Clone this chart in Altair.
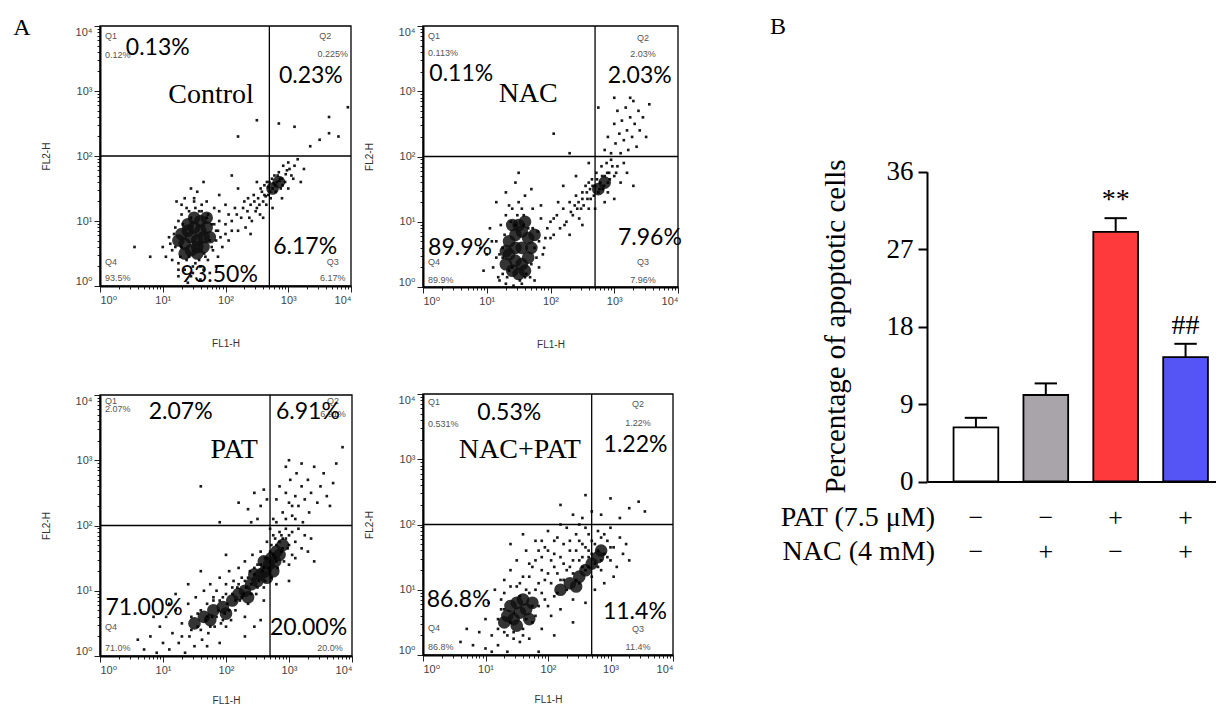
import altair as alt
import pandas as pd

W, H = 1208, 697

# ---------------- Panel A: dot plots, positions read as (log10 FL1-H, log10 FL2-H) ----------------
control_dots = [
    (1.15, 0.55), (1.2, 0.9), (1.25, 0.35), (1.3, 1.1), (1.3, 0.6), (1.35, 0.25), (1.38, 1.2), (1.42, 0.45),
    (1.45, 1.05), (1.48, 0.2), (1.5, 1.3), (1.52, 0.35), (1.58, 1.15), (1.6, 0.3), (1.62, 1.25), (1.66, 0.5),
    (1.7, 1.05), (1.72, 0.4), (1.75, 0.7), (1.78, 0.95), (1.8, 0.55), (1.82, 1.2), (1.85, 0.85), (1.88, 0.45),
    (1.9, 1.0), (1.1, 0.75), (1.05, 0.45), (1.0, 0.6), (1.22, 1.3), (1.35, 1.35), (1.45, 1.5), (1.55, 1.45),
    (1.65, 1.6), (1.25, 0.15), (1.4, 0.05), (1.6, 0.1), (1.75, 0.2), (1.95, 0.6), (2.0, 0.8), (2.05, 1.1),
    (2.0, 0.95), (2.05, 0.7), (2.1, 1.0), (2.15, 1.2), (2.2, 0.85), (2.25, 1.05), (2.3, 1.3), (2.32, 0.9),
    (2.35, 1.15), (2.4, 1.25), (2.42, 1.0), (2.45, 1.4), (2.5, 1.2), (2.52, 1.35), (2.55, 1.1), (2.58, 1.45),
    (2.6, 1.3), (2.62, 1.55), (2.65, 1.25), (2.68, 1.4), (2.7, 1.6), (2.72, 1.35), (2.75, 1.5), (2.78, 1.7),
    (2.8, 1.45), (2.82, 1.6), (2.85, 1.75), (2.88, 1.5), (2.9, 1.65), (2.92, 1.85), (2.95, 1.6), (2.98, 1.78),
    (3.0, 1.9), (3.05, 1.7), (3.1, 1.85), (3.15, 1.95), (2.4, 0.8), (2.6, 1.05), (2.75, 1.2), (2.9, 1.35),
    (3.0, 1.5), (2.2, 1.5), (2.5, 1.6), (1.9, 1.4), (2.1, 1.7), (3.2, 1.6), (3.25, 1.8), (2.85, 2.5),
    (3.1, 2.45), (3.35, 2.15), (3.5, 2.25), (3.65, 2.35), (3.8, 2.3), (3.95, 2.75), (3.65, 2.6), (2.5, 2.55),
    (2.2, 2.3), (0.55, 0.6), (0.8, 0.45), (2.68, 1.52), (2.77, 1.58), (2.64, 1.38), (2.86, 1.62),
    (1.2, 0.6), (1.25, 1.0), (1.28, 0.45), (1.32, 0.95), (1.38, 0.4), (1.42, 1.15), (1.48, 0.3), (1.52, 1.2),
    (1.58, 0.4), (1.62, 1.15), (1.68, 0.45), (1.72, 1.1), (1.78, 0.6), (1.82, 0.95), (1.85, 0.7), (1.88, 0.85),
    (1.92, 0.75), (1.18, 0.8), (1.15, 0.4), (1.12, 0.65), (1.3, 1.25), (1.5, 1.35), (1.7, 1.3), (1.9, 1.15),
    (2.0, 1.25), (1.25, 0.25), (1.45, 0.15), (1.65, 0.25), (1.85, 0.3), (2.1, 0.85), (2.18, 1.1), (2.28, 1.2),
    (2.38, 1.05), (2.46, 1.3), (2.54, 1.25), (2.62, 1.4), (2.66, 1.6), (2.71, 1.45), (2.74, 1.65), (2.79, 1.55),
    (2.83, 1.7), (2.87, 1.65), (2.91, 1.55), (2.96, 1.72), (3.02, 1.8), (3.08, 1.65), (2.56, 1.5), (2.48, 1.15),
    (2.36, 1.35),
]
control_core = [(1.35, 0.65), (1.45, 0.55), (1.55, 0.5), (1.65, 0.6), (1.75, 0.75), (1.7, 0.9), (1.6, 1.0),
                (1.5, 1.05), (1.4, 0.95), (1.3, 0.8), (1.45, 0.75), (1.55, 0.7), (1.6, 0.85), (1.5, 0.9),
                (1.4, 0.85), (1.65, 0.75), (1.55, 0.6), (1.35, 0.5), (1.7, 1.05), (1.25, 0.7),
                (2.75, 1.5), (2.85, 1.6)]

nac_dots = [
    (1.1, 0.3), (1.15, 0.7), (1.2, 0.1), (1.22, 0.95), (1.25, 0.45), (1.3, 0.05), (1.3, 1.1), (1.35, 0.25),
    (1.4, 1.2), (1.42, 0.02), (1.45, 0.95), (1.5, 1.3), (1.55, 0.05), (1.58, 1.1), (1.62, 0.2), (1.65, 0.9),
    (1.7, 0.35), (1.72, 1.2), (1.75, 0.6), (1.8, 0.85), (1.82, 0.3), (1.85, 1.05), (1.9, 0.6), (1.95, 0.9),
    (1.0, 0.5), (0.95, 0.25), (0.9, 0.6), (1.05, 0.9), (1.15, 1.3), (1.3, 1.45), (1.45, 1.6), (1.5, 1.75),
    (1.7, 1.5), (1.6, 1.4), (2.0, 0.75), (2.05, 1.05), (1.25, 0.6), (1.6, 0.15), (1.75, 0.1), (1.4, 0.3),
    (2.0, 1.0), (2.05, 0.8), (2.1, 1.1), (2.15, 0.9), (2.2, 1.2), (2.25, 1.0), (2.3, 1.3), (2.35, 1.1),
    (2.4, 1.4), (2.42, 1.2), (2.45, 1.05), (2.5, 1.45), (2.52, 1.25), (2.55, 1.55), (2.58, 1.35), (2.6, 1.2),
    (2.62, 1.5), (2.65, 1.65), (2.68, 1.4), (2.7, 1.55), (2.72, 1.75), (2.75, 1.45), (2.78, 1.6), (2.8, 1.85),
    (2.82, 1.5), (2.85, 1.7), (2.88, 1.9), (2.9, 1.6), (2.92, 1.75), (2.95, 1.95), (3.0, 1.7), (3.05, 1.85),
    (3.1, 1.6), (3.15, 1.9), (3.2, 1.75), (2.3, 0.8), (2.5, 0.95), (2.7, 1.2), (2.85, 1.3), (2.4, 1.7),
    (2.6, 1.9), (2.2, 1.55), (3.3, 1.55), (3.0, 1.35), (2.85, 2.1), (2.9, 2.3), (2.95, 2.05), (3.0, 2.5),
    (3.02, 2.2), (3.05, 2.7), (3.08, 2.35), (3.1, 2.05), (3.12, 2.55), (3.15, 2.25), (3.18, 2.75), (3.2, 2.4),
    (3.22, 2.1), (3.25, 2.6), (3.28, 2.3), (3.3, 2.85), (3.32, 2.5), (3.35, 2.15), (3.38, 2.7), (3.4, 2.4),
    (3.45, 2.6), (3.5, 2.3), (3.55, 2.8), (2.75, 2.75), (3.0, 2.9), (3.25, 2.9), (2.05, 2.35), (2.3, 2.05),
    (1.2, 0.5), (1.25, 0.2), (1.28, 0.8), (1.32, 0.15), (1.38, 1.0), (1.48, 1.1), (1.52, 0.1), (1.58, 0.95),
    (1.68, 0.15), (1.72, 0.9), (1.78, 0.45), (1.82, 0.7), (1.88, 0.5), (1.92, 0.75), (1.15, 0.45), (1.18, 0.15),
    (1.08, 0.7), (1.35, 1.25), (1.55, 1.2), (1.85, 1.25), (2.12, 1.3), (2.22, 0.95), (2.32, 1.15), (2.44, 1.3),
    (2.48, 1.2), (2.57, 1.45), (2.63, 1.35), (2.66, 1.55), (2.73, 1.65), (2.77, 1.5), (2.81, 1.7), (2.84, 1.55),
    (2.89, 1.75), (2.93, 1.65), (2.97, 1.85), (3.03, 1.75), (2.6, 1.6), (2.5, 1.35), (2.38, 1.25), (2.9, 1.45),
]
nac_core = [(1.35, 0.5), (1.45, 0.4), (1.55, 0.35), (1.65, 0.45), (1.7, 0.6), (1.65, 0.75), (1.55, 0.85),
            (1.45, 0.8), (1.35, 0.7), (1.3, 0.55), (1.45, 0.6), (1.55, 0.6), (1.5, 0.2), (1.4, 0.25),
            (1.6, 0.25), (1.5, 0.95), (1.75, 0.8), (1.3, 0.35), (1.6, 1.0), (1.4, 0.95),
            (2.75, 1.5), (2.85, 1.6)]

pat_dots = [
    (0.7, 0.1), (0.8, 0.3), (0.9, 0.05), (0.95, 0.45), (1.0, 0.2), (1.05, 0.6), (1.1, 0.1), (1.15, 0.35),
    (1.2, 0.7), (1.25, 0.2), (1.3, 0.5), (1.35, 0.05), (1.4, 0.8), (1.42, 0.3), (1.45, 0.6), (1.5, 0.15),
    (1.52, 0.9), (1.55, 0.45), (1.6, 0.7), (1.62, 0.25), (1.65, 1.0), (1.68, 0.55), (1.7, 0.8), (1.72, 0.35),
    (1.75, 1.1), (1.78, 0.6), (1.8, 0.85), (1.82, 0.45), (1.85, 1.0), (1.88, 0.7), (1.9, 1.2), (1.92, 0.5),
    (1.95, 0.9), (1.98, 0.65), (2.0, 1.1), (2.02, 0.8), (2.05, 1.3), (2.08, 0.55), (2.1, 0.95), (2.12, 1.15),
    (2.15, 0.7), (2.18, 1.05), (2.2, 1.35), (2.22, 0.85), (2.25, 1.2), (2.28, 0.95), (2.3, 1.45), (2.32, 1.05),
    (2.35, 0.8), (2.38, 1.3), (2.4, 1.1), (2.42, 1.55), (2.45, 1.25), (2.48, 0.95), (2.5, 1.4), (2.52, 1.15),
    (2.55, 1.6), (2.58, 1.3), (2.6, 1.05), (2.62, 1.5), (2.65, 1.75), (2.68, 1.35), (2.7, 1.6), (2.72, 1.2),
    (2.75, 1.85), (2.78, 1.5), (2.8, 1.7), (2.82, 1.35), (2.85, 1.9), (2.88, 1.6), (2.9, 1.8), (2.92, 1.45),
    (2.95, 1.95), (2.98, 1.65), (3.0, 1.85), (3.05, 1.55), (3.1, 1.75), (3.15, 1.95), (3.2, 1.65), (3.25, 1.85),
    (3.3, 1.6), (3.35, 1.8), (3.0, 1.4), (3.1, 1.5), (2.3, 0.6), (2.0, 0.45), (1.7, 0.15), (2.6, 0.85),
    (2.8, 1.1), (1.4, 1.1), (1.6, 1.3), (1.2, 0.95), (2.0, 1.55), (1.9, 0.2), (2.3, 0.3), (2.55, 0.55),
    (1.1, 0.8), (0.85, 0.6), (0.6, 0.25), (3.4, 1.45), (2.45, 0.45), (3.0, 1.15), (1.9, 2.05), (2.2, 2.35),
    (2.35, 2.25), (2.45, 2.5), (2.55, 2.3), (2.6, 2.55), (2.5, 2.1), (2.65, 2.4), (2.4, 2.05), (1.6, 2.6),
    (2.75, 2.1), (2.8, 2.4), (2.85, 2.6), (2.9, 2.2), (2.95, 2.5), (3.0, 2.35), (3.02, 2.7), (3.05, 2.15),
    (3.1, 2.45), (3.12, 2.8), (3.15, 2.3), (3.2, 2.6), (3.22, 2.05), (3.25, 2.4), (3.3, 2.7), (3.32, 2.2),
    (3.35, 2.5), (3.4, 2.9), (3.45, 2.35), (3.5, 2.6), (3.55, 2.8), (3.6, 2.45), (3.65, 2.3), (3.7, 2.65),
    (3.75, 2.95), (3.85, 3.2), (2.95, 2.9), (3.0, 3.0), (3.2, 2.95), (3.1, 2.1),
    (1.3, 0.3), (1.45, 0.4), (1.55, 0.65), (1.6, 0.4), (1.7, 0.6), (1.75, 0.45), (1.8, 0.9), (1.85, 0.6),
    (1.9, 0.85), (1.95, 0.55), (2.0, 0.95), (2.05, 0.7), (2.1, 1.05), (2.15, 0.85), (2.2, 1.1), (2.25, 0.9),
    (2.3, 1.15), (2.35, 1.2), (2.4, 0.95), (2.45, 1.35), (2.5, 1.05), (2.55, 1.4), (2.6, 1.35), (2.65, 1.5),
    (2.7, 1.3), (2.72, 1.7), (2.75, 1.55), (2.8, 1.45), (2.85, 1.75), (2.9, 1.65), (2.95, 1.8), (3.0, 1.7),
    (3.05, 1.9), (2.62, 1.15), (2.78, 1.8), (2.88, 1.85), (2.7, 1.95), (2.8, 2.05), (2.95, 2.1), (3.05, 2.3),
]
pat_core = [(1.5, 0.5), (1.65, 0.6), (1.8, 0.7), (1.95, 0.75), (2.1, 0.85), (2.2, 0.95), (2.3, 1.0),
            (2.4, 1.1), (2.5, 1.15), (2.55, 1.25), (2.62, 1.3), (2.68, 1.4), (2.72, 1.5), (2.78, 1.45),
            (2.8, 1.6), (2.85, 1.55), (2.75, 1.3), (2.9, 1.7), (2.65, 1.2), (2.0, 0.65), (1.75, 0.55),
            (2.35, 0.9), (2.45, 1.25), (2.6, 1.45)]

nacpat_dots = [
    (0.8, 0.15), (0.9, 0.35), (1.0, 0.1), (1.0, 0.55), (1.05, 0.8), (1.1, 0.3), (1.15, 1.0), (1.2, 0.15),
    (1.2, 0.55), (1.25, 0.85), (1.3, 0.35), (1.3, 1.15), (1.35, 0.05), (1.4, 0.5), (1.4, 1.3), (1.45, 0.25),
    (1.5, 1.05), (1.5, 1.45), (1.55, 0.2), (1.6, 1.2), (1.6, 0.4), (1.65, 1.6), (1.7, 0.95), (1.7, 0.25),
    (1.75, 1.35), (1.8, 0.6), (1.8, 1.75), (1.85, 1.1), (1.9, 0.4), (1.9, 1.5), (1.95, 0.85), (2.0, 1.9),
    (2.0, 1.25), (2.05, 0.6), (2.1, 1.55), (2.1, 0.9), (2.15, 1.8), (2.2, 1.15), (2.2, 0.7), (2.25, 1.4),
    (2.3, 1.95), (2.3, 1.0), (2.35, 1.6), (2.4, 0.85), (2.4, 1.25), (2.45, 1.85), (2.5, 1.45), (2.5, 1.1),
    (2.55, 1.7), (2.6, 1.3), (2.6, 1.95), (2.65, 1.5), (2.7, 1.2), (2.7, 1.75), (2.75, 1.4), (2.8, 1.6),
    (2.8, 1.9), (2.85, 1.3), (2.9, 1.55), (2.95, 1.75), (3.0, 1.45), (3.0, 1.95), (3.05, 1.65), (3.1, 1.35),
    (3.15, 1.8), (3.2, 1.55), (3.25, 1.7), (3.3, 1.45), (2.9, 1.1), (2.6, 0.8), (2.4, 0.5), (2.1, 0.3),
    (1.85, 0.05), (2.2, 2.0), (2.5, 2.0), (1.6, 1.85), (1.4, 1.7), (3.05, 1.2), (2.75, 1.0), (1.3, 0.7),
    (1.75, 0.75), (1.65, 0.55), (1.55, 0.9), (1.45, 0.65), (2.35, 1.35), (2.15, 1.25), (2.65, 1.6), (2.85, 1.8),
    (1.95, 1.65), (0.7, 0.4), (0.6, 0.2), (1.1, 0.05), (2.55, 2.1), (2.7, 2.2), (2.85, 2.15), (3.0, 2.4),
    (3.3, 2.25), (3.45, 2.35), (3.55, 2.2), (2.4, 2.15), (2.2, 2.3), (2.6, 2.45), (3.15, 2.1), (1.9, 1.3),
    (2.05, 1.45), (2.45, 1.15), (2.55, 1.35), (1.85, 1.6), (2.25, 1.7), (1.7, 1.4), (2.65, 1.85),
    (1.2, 0.4), (1.25, 0.7), (1.3, 0.95), (1.35, 0.3), (1.4, 1.05), (1.45, 0.35), (1.55, 1.1), (1.6, 0.3),
    (1.65, 1.0), (1.75, 0.5), (1.8, 1.0), (1.85, 0.75), (1.9, 0.95), (1.95, 1.15), (2.0, 0.75), (2.05, 1.1),
    (2.1, 1.35), (2.15, 0.95), (2.2, 1.5), (2.25, 1.15), (2.3, 1.3), (2.35, 1.75), (2.4, 1.45), (2.45, 1.6),
    (2.5, 1.75), (2.55, 1.5), (2.6, 1.65), (2.65, 1.35), (2.7, 1.55), (2.75, 1.7), (2.8, 1.35), (2.85, 1.45),
    (2.9, 1.85), (2.95, 1.5), (3.0, 1.65), (1.7, 1.2), (1.8, 1.45), (1.9, 1.75), (2.0, 1.6), (2.1, 1.75),
]
nacpat_core = [(1.35, 0.6), (1.45, 0.55), (1.55, 0.65), (1.65, 0.7), (1.6, 0.85), (1.5, 0.8), (1.4, 0.75),
               (1.3, 0.5), (1.7, 0.55), (1.5, 0.45), (1.75, 0.8), (2.2, 1.0), (2.35, 1.1), (2.5, 1.2),
               (2.6, 1.3), (2.7, 1.4), (2.8, 1.5), (2.85, 1.6), (2.45, 1.05)]

# quadrant annotations: (text, log10 FL1-H, log10 FL2-H, kind)
control_notes = [
    ("Q1", 0.08, 3.84, "sl"), ("0.12%", 0.08, 3.56, "sl"), ("0.13%", 0.92, 3.66, "big"),
    ("Control", 1.77, 2.94, "name"), ("Q2", 3.59, 3.84, "sc"), ("0.225%", 3.71, 3.57, "sc"),
    ("0.23%", 3.36, 3.23, "big"), ("6.17%", 3.27, 0.60, "big"), ("Q3", 3.71, 0.37, "sc"),
    ("6.17%", 3.71, 0.12, "sc"), ("Q4", 0.08, 0.37, "sl"), ("93.5%", 0.08, 0.12, "sl"),
    ("93.50%", 1.90, 0.17, "big"),
]
nac_notes = [
    ("Q1", 0.08, 3.84, "sl"), ("0.113%", 0.08, 3.58, "sl"), ("0.11%", 0.60, 3.26, "big"),
    ("NAC", 1.65, 2.96, "name"), ("Q2", 3.45, 3.82, "sc"), ("2.03%", 3.45, 3.57, "sc"),
    ("2.03%", 3.40, 3.24, "big"), ("7.96%", 3.56, 0.75, "big"), ("Q3", 3.45, 0.38, "sc"),
    ("7.96%", 3.45, 0.11, "sc"), ("89.9%", 0.58, 0.60, "big"), ("Q4", 0.08, 0.38, "sl"),
    ("89.9%", 0.08, 0.11, "sl"),
]
pat_notes = [
    ("Q1", 0.08, 3.91, "sl"), ("2.07%", 0.08, 3.79, "sl"), ("2.07%", 1.28, 3.74, "big"),
    ("PAT", 2.13, 3.16, "name"), ("Q2", 3.70, 3.91, "sc"), ("6.91%", 3.70, 3.71, "sc"),
    ("6.91%", 3.30, 3.74, "big"), ("71.00%", 0.70, 0.74, "big"), ("Q4", 0.08, 0.44, "sl"),
    ("71.0%", 0.08, 0.12, "sl"), ("20.00%", 3.31, 0.43, "big"), ("20.0%", 3.65, 0.12, "sc"),
]
nacpat_notes = [
    ("Q1", 0.08, 3.88, "sl"), ("0.531%", 0.08, 3.54, "sl"), ("0.53%", 1.38, 3.71, "big"),
    ("NAC+PAT", 1.55, 3.14, "name"), ("Q2", 3.44, 3.85, "sc"), ("1.22%", 3.44, 3.56, "sc"),
    ("1.22%", 3.40, 3.22, "big"), ("86.8%", 0.57, 0.84, "big"), ("Q4", 0.08, 0.41, "sl"),
    ("86.8%", 0.08, 0.12, "sl"), ("11.4%", 3.39, 0.66, "big"), ("Q3", 3.44, 0.40, "sc"),
    ("11.4%", 3.44, 0.13, "sc"),
]

gate_fl1 = 500
gate_fl2 = 100

# ---------------- Panel B data ----------------
groups = ["Control", "NAC", "PAT", "NAC+PAT"]
group_pos = [1, 2, 3, 4]
apoptosis_pct = [6.3, 10.05, 29.0, 14.45]
apoptosis_err = [1.1, 1.35, 1.6, 1.55]
pat_sign = ["\u2212", "\u2212", "+", "+"]
nac_sign = ["\u2212", "+", "\u2212", "+"]
significance = ["", "", "**", "##"]
bar_colors = ["#ffffff", "#a8a4a9", "#fe3a3c", "#5555f6"]

# ---------------- helpers ----------------
LOG_TICKS = [float(m * 10 ** k) for k in range(4) for m in range(1, 10)] + [10000.0]
MAJOR = ("datum.value == 1 || datum.value == 10 || datum.value == 100 || "
         "datum.value == 1000 || datum.value == 10000")
LABEL_EXPR = ("datum.value == 1 ? '10\u2070' : datum.value == 10 ? '10\u00b9' : "
              "datum.value == 100 ? '10\u00b2' : datum.value == 1000 ? '10\u00b3' : "
              "datum.value == 10000 ? '10\u2074' : ''")
SANS = "Liberation Sans, DejaVu Sans"
SERIF = "Liberation Serif"

AX_COMMON = dict(
    values=LOG_TICKS, labelExpr=LABEL_EXPR,
    tickSize={"condition": {"test": MAJOR, "value": 6}, "value": 3},
    tickColor="#222", tickWidth=1, domainColor="black", domainWidth=2, grid=False,
    labelFont=SANS, labelFontSize=11, labelColor="#444", labelPadding=2,
    labelFlush=True, labelOverlap=False,
    titleFont=SANS, titleFontSize=10, titleFontWeight="normal", titleColor="#333",
    titleAlign="center", titleBaseline="middle",
)

PANELS = [
    dict(dots=control_dots, core=control_core, notes=control_notes, x0=92, x1=343, yb=278, yt=18, tY=57),
    dict(dots=nac_dots, core=nac_core, notes=nac_notes, x0=415, x1=670, yb=279, yt=18, tY=57),
    dict(dots=pat_dots, core=pat_core, notes=pat_notes, x0=92, x1=344, yb=648, yt=387, tY=44),
    dict(dots=nacpat_dots, core=nacpat_core, notes=nacpat_notes, x0=415, x1=665, yb=647, yt=386, tY=44),
]


def make_panel(p):
    xs = alt.Scale(type="log", domain=[1, 10000], range=[p["x0"], p["x1"]], nice=False)
    ys = alt.Scale(type="log", domain=[1, 10000], range=[p["yb"], p["yt"]], nice=False)
    xax = alt.Axis(orient="bottom", offset=p["yb"] - H, title="FL1-H",
                   titleX=(p["x0"] + p["x1"]) / 2, titleY=p["tY"], titleAngle=0, **AX_COMMON)
    yax = alt.Axis(orient="left", offset=-p["x0"], title="FL2-H",
                   titleX=-54, titleY=(p["yb"] + p["yt"]) / 2, titleAngle=-90, **AX_COMMON)

    def X(f):
        return alt.X(f, type="quantitative", scale=xs, axis=xax)

    def Y(f):
        return alt.Y(f, type="quantitative", scale=ys, axis=yax)

    dots = pd.DataFrame({"fl1": [10 ** a for a, b in p["dots"]], "fl2": [10 ** b for a, b in p["dots"]]})
    core = pd.DataFrame({"fl1": [10 ** a for a, b in p["core"]], "fl2": [10 ** b for a, b in p["core"]]})
    notes = pd.DataFrame({
        "text": [n[0] for n in p["notes"]],
        "fl1": [10 ** n[1] for n in p["notes"]],
        "fl2": [10 ** n[2] for n in p["notes"]],
        "kind": [n[3] for n in p["notes"]],
    })
    frame = pd.DataFrame({"a": [1], "b": [10000], "gx": [gate_fl1], "gy": [gate_fl2]})

    core_l = alt.Chart(core).mark_circle(size=160, opacity=0.85, color="#111").encode(x=X("fl1"), y=Y("fl2"))
    dot_l = alt.Chart(dots).mark_point(shape="square", filled=True, size=7, opacity=0.9,
                                       color="black").encode(x=X("fl1"), y=Y("fl2"))
    box = alt.Chart(frame).mark_rect(filled=False, stroke="black", strokeWidth=1.3).encode(
        x=X("a"), x2="b", y=Y("a"), y2="b")
    vgate = alt.Chart(frame).mark_rule(color="black", strokeWidth=1.3).encode(x=X("gx"), y=Y("a"), y2="b")
    hgate = alt.Chart(frame).mark_rule(color="black", strokeWidth=1.3).encode(x=X("a"), x2="b", y=Y("gy"))

    def txt(kind, **style):
        return alt.Chart(notes).transform_filter(alt.datum.kind == kind).mark_text(
            baseline="middle", **style).encode(x=X("fl1"), y=Y("fl2"), text="text:N")

    big = txt("big", font="Lato", fontSize=23, color="black", align="center")
    name = txt("name", font=SERIF, fontSize=28, color="black", align="center")
    sl = txt("sl", font=SANS, fontSize=9, color="#555", align="left")
    sc = txt("sc", font=SANS, fontSize=9, color="#555", align="center")
    return alt.layer(core_l, dot_l, box, vgate, hgate, sl, sc, name, big)


panels = [make_panel(p) for p in PANELS]

# ---------------- Panel B chart ----------------
bar_df = pd.DataFrame({
    "group": groups, "pos": group_pos, "pct": apoptosis_pct, "err": apoptosis_err,
    "pat": pat_sign, "nac": nac_sign, "sig": significance,
})
bxs = alt.Scale(domain=[0.3, 4.55], range=[919, 1216], nice=False, zero=False)
bys = alt.Scale(domain=[0, 36], range=[473.5, 163.7], nice=False, zero=False)
bx_axis = alt.Axis(orient="bottom", offset=473.5 - H, ticks=False, labels=False, grid=False,
                   domainColor="black", domainWidth=2, title=None)
by_axis = alt.Axis(orient="left", offset=-919, values=[0, 9, 18, 27, 36], grid=False,
                   tickSize=9, tickWidth=2, tickColor="black", domainColor="black", domainWidth=2,
                   labelFont=SERIF, labelFontSize=27, labelColor="black", labelPadding=5,
                   title="Percentage of apoptotic cells", titleFont=SERIF, titleFontSize=29,
                   titleFontWeight="normal", titleColor="black", titleX=-92, titleY=318,
                   titleAngle=-90, titleAlign="center", titleBaseline="middle")


def BX(f):
    return alt.X(f, type="quantitative", scale=bxs, axis=bx_axis)


def BY(f):
    return alt.Y(f, type="quantitative", scale=bys, axis=by_axis)


bbase = alt.Chart(bar_df).transform_calculate(
    left="datum.pos - 0.32", right="datum.pos + 0.32", upper="datum.pct + datum.err",
    capl="datum.pos - 0.16", capr="datum.pos + 0.16", zero="0")

bars = bbase.mark_rect(stroke="black", strokeWidth=1.8).encode(
    x=BX("left"), x2="right", y=BY("zero"), y2="pct",
    color=alt.Color("group:N", scale=alt.Scale(domain=groups, range=bar_colors), legend=None))
err_v = bbase.mark_rule(color="black", strokeWidth=2).encode(x=BX("pos"), y=BY("pct"), y2="upper")
err_c = bbase.mark_rule(color="black", strokeWidth=2).encode(x=BX("capl"), x2="capr", y=BY("upper"))
sig_t = bbase.mark_text(font=SERIF, fontSize=28, color="black", baseline="middle", dy=-18).encode(
    x=BX("pos"), y=BY("upper"), text="sig:N")
pat_t = bbase.mark_text(font=SERIF, fontSize=26, color="black", baseline="middle").encode(
    x=BX("pos"), y=alt.value(510), text="pat:N")
nac_t = bbase.mark_text(font=SERIF, fontSize=26, color="black", baseline="middle").encode(
    x=BX("pos"), y=alt.value(544), text="nac:N")
row1 = alt.Chart(pd.DataFrame({"label": ["PAT (7.5 \u03bcM)"]})).mark_text(
    font=SERIF, fontSize=28, color="black", align="right", baseline="middle").encode(
    x=alt.value(927), y=alt.value(510), text="label:N")
row2 = alt.Chart(pd.DataFrame({"label": ["NAC (4 mM)"]})).mark_text(
    font=SERIF, fontSize=28, color="black", align="right", baseline="middle").encode(
    x=alt.value(927), y=alt.value(544), text="label:N")
lab_a = alt.Chart(pd.DataFrame({"label": ["A"]})).mark_text(
    font=SERIF, fontSize=24, color="black", baseline="middle").encode(
    x=alt.value(14), y=alt.value(20), text="label:N")
lab_b = alt.Chart(pd.DataFrame({"label": ["B"]})).mark_text(
    font=SERIF, fontSize=24, color="black", baseline="middle").encode(
    x=alt.value(770), y=alt.value(19), text="label:N")

bar_panel = alt.layer(bars, err_v, err_c, sig_t, pat_t, nac_t, row1, row2, lab_a, lab_b)

chart = alt.layer(*panels, bar_panel).resolve_scale(
    x="independent", y="independent", color="independent"
).properties(
    width=W, height=H, autosize=alt.AutoSizeParams(type="none"), padding=0
).configure_view(stroke="transparent")

chart.save("out.html", embed_options={"renderer": "svg", "actions": False})
